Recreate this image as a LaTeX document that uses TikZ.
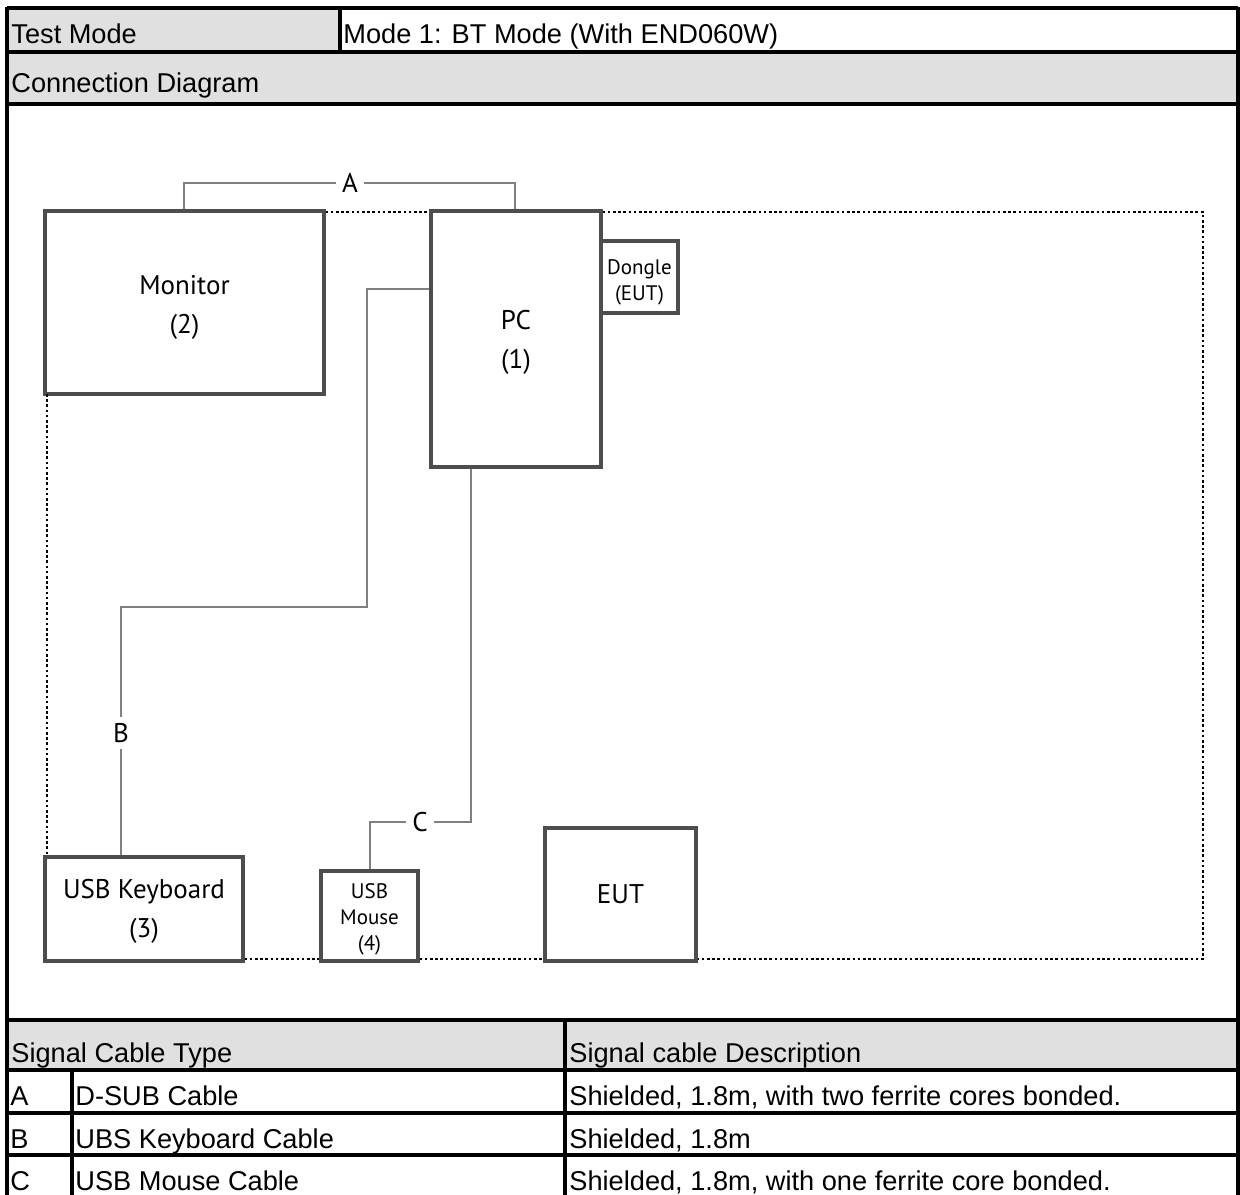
\documentclass[tikz,border=0pt]{standalone}
\usepackage{fontspec}
\setmainfont{Liberation Sans}
\newfontfamily\diagfont{PT Sans}
\usetikzlibrary{calc}
\definecolor{hdrgray}{HTML}{E0E0E0}
\definecolor{boxgray}{HTML}{4D4D4D}
\definecolor{cablegray}{HTML}{808080}
\begin{document}
\begin{tikzpicture}[x=0.5pt,y=-0.5pt,
  tline/.style={line width=1.6pt,black},
  ttext/.style={anchor=base west,inner sep=0pt,font=\fontsize{13.6}{15}\selectfont},
  dev/.style={draw=boxgray,line width=1.6pt,align=center,inner sep=0pt,font=\diagfont\fontsize{13.5}{19.5}\selectfont},
  smalldev/.style={dev,font=\diagfont\fontsize{10.5}{13}\selectfont},
  cable/.style={draw=cablegray,line width=0.9pt},
  clabel/.style={fill=white,inner sep=3pt,font=\diagfont\fontsize{13.5}{15}\selectfont},
  dotline/.style={line width=1.4pt,dash pattern=on 1.3pt off 1.3pt}]
\useasboundingbox (0,0) rectangle (1240,1194);
% header and table fills
\fill[hdrgray] (7,8) rectangle (340,52);
\fill[hdrgray] (7,52) rectangle (1238,104);
\fill[hdrgray] (7,1020) rectangle (1238,1070);
% table lines
\foreach \yy in {8,52,104,1020,1070,1113,1155}
  \draw[tline] (7,\yy) -- (1238,\yy);
\draw[tline] (7,7.2) -- (7,1198);
\draw[tline] (1238,7.2) -- (1238,1198);
\draw[tline] (340,8) -- (340,52);
\draw[tline] (565,1020) -- (565,1198);
\draw[tline] (72,1070) -- (72,1198);
% table texts
\node[ttext] (t1) at (11,43) {Test Mode};
\node[ttext] (t2) at (343,43) {Mode 1: BT Mode (With END060W)};
\node[ttext] (t3) at (11,92) {Connection Diagram};
\node[ttext] (t4) at (11,1062) {Signal Cable Type};
\node[ttext] (t5) at (569,1062) {Signal cable Description};
\node[ttext] (ra) at (10,1105) {A};
\node[ttext] (ra2) at (75,1105) {D-SUB Cable};
\node[ttext] (ra3) at (569,1105) {Shielded, 1.8m, with two ferrite cores bonded.};
\node[ttext] (rb) at (10,1148) {B};
\node[ttext] (rb2) at (75,1148) {UBS Keyboard Cable};
\node[ttext] (rb3) at (569,1148) {Shielded, 1.8m};
\node[ttext] (rc) at (10,1190) {C};
\node[ttext] (rc2) at (75,1190) {USB Mouse Cable};
\node[ttext] (rc3) at (569,1190) {Shielded, 1.8m, with one ferrite core bonded.};
% devices
\node[dev,minimum width=139.5pt,minimum height=91.5pt] (mon) at (184.5,302.5) {\rule{0pt}{14pt}Monitor\\(2)};
\node[dev,minimum width=85pt,minimum height=128pt] (pc) at (516,339) {\rule{0pt}{13pt}PC\\(1)};
\node[smalldev,minimum width=38.5pt,minimum height=36pt] (dng) at (639.5,277) {\rule{0pt}{13pt}Dongle\\(EUT)};
\node[dev,minimum width=99pt,minimum height=52pt] (kb) at (144,909) {\rule{0pt}{12pt}USB Keyboard\\(3)};
\node[smalldev,minimum width=48.5pt,minimum height=45pt] (ms) at (369.5,916) {\rule{0pt}{11pt}USB\\Mouse\\(4)};
\node[dev,minimum width=75.5pt,minimum height=66.5pt] (eut) at (620.5,894.5) {EUT};
% dotted boundary
\coordinate (tr) at (1203,212);
\coordinate (br) at (1203,959);
\coordinate (l1) at (47,394);
\draw[dotline] (mon.east |- tr) -- (pc.west |- tr);
\draw[dotline] (pc.east |- tr) -- (tr) -- (br) -- (eut.east |- br);
\draw[dotline] (kb.east |- br) -- (ms.west |- br);
\draw[dotline] (ms.east |- br) -- (eut.west |- br);
\draw[dotline] (l1) -- (l1 |- kb.north);
% cable A
\coordinate (a1) at (184,183);
\coordinate (a2) at (515,183);
\draw[cable] (mon.north -| a1) -- (a1) -- (a2) -- (pc.north -| a2);
\node[clabel] (la) at (350,183) {A};
% cable B
\coordinate (b1) at (367,289);
\coordinate (b2) at (367,607);
\coordinate (b3) at (121,607);
\draw[cable] (pc.west |- b1) -- (b1) -- (b2) -- (b3) -- (kb.north -| b3);
\node[clabel] (lb) at (121,733) {B};
% cable C
\coordinate (c1) at (471,822);
\coordinate (c2) at (370,822);
\draw[cable] (pc.south -| c1) -- (c1) -- (c2) -- (ms.north -| c2);
\node[clabel] (lc) at (420,822) {C};
\end{tikzpicture}
\end{document}
